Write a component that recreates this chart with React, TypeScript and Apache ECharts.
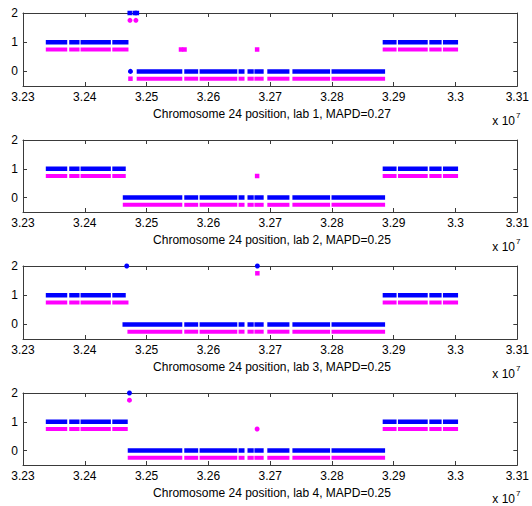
import React, { useEffect, useRef } from "react";
import * as echarts from "echarts";

// ---- data (positions in bp) ----
const X_MIN = 32300000;
const X_MAX = 33100000;
const X_STEP = 100000;
const Y_TICKS = [0, 1, 2];
const LABS = ["lab 1", "lab 2", "lab 3", "lab 4"];
const MAPD = [0.27, 0.25, 0.25, 0.25];

// contiguous probe runs (copy number 1 on the left)
const leftRuns = [
  [32336900, 32371600],
  [32374800, 32391500],
  [32393100, 32442200],
  [32444500, 32470700],
];
// deleted region (copy number 0)
const midRuns = [
  [32484000, 32557800],
  [32561000, 32583500],
  [32585800, 32646800],
  [32648900, 32658500],
  [32663300, 32673400],
  [32674500, 32689500],
  [32695400, 32731200],
  [32736000, 32797000],
  [32799300, 32886000],
];
// copy number 1 on the right
const rightRuns = [
  [32882100, 32904600],
  [32906800, 32955000],
  [32957600, 32977500],
  [32979600, 33004100],
];
const levels = [1, 0, 1];
const pinkOffset = -0.25;

// per-lab breakpoints
const leftEndBlue = [32470700, 32466300, 32466300, 32469500];
const leftEndPink = [32470700, 32466300, 32470700, 32469500];
const midStartBlue = [32484000, 32461500, 32461000, 32469500];
const midStartPink = [32484000, 32461500, 32469000, 32469500];

// isolated points
const blueRect = [
  [[32472700, 2], [32480800, 2], [32484300, 2]],
  [],
  [],
  [],
];
const blueDot = [
  [[32473900, 0]],
  [],
  [[32467900, 2], [32679300, 2]],
  [[32472300, 2]],
];
const pinkRect = [
  [[32555700, 0.75], [32561400, 0.75], [32678900, 0.75], [32473900, -0.25]],
  [[32678900, 0.75]],
  [[32679300, 1.75]],
  [],
];
const pinkDot = [
  [[32473100, 1.75], [32482700, 1.75]],
  [],
  [],
  [[32472300, 1.75], [32678900, 0.75]],
];

// ---- layout ----
const PANEL_TOP = [13, 140, 266, 393];
const PANEL_H = [73, 72, 73, 72];
const LEFT = 23;
const WIDTH = 498;
const BLUE = "#0000ff";
const PINK = "#ff00ff";
const AXIS = "#3a3a3a";
const FONT = "Liberation Sans, Arial, sans-serif";

function buildRuns(p: number, endL: number[], startM: number[], off: number) {
  const segs: number[][][] = [];
  const l = leftRuns.map((r, i) => (i === leftRuns.length - 1 ? [r[0], endL[p]] : r));
  const m = midRuns.map((r, i) => (i === 0 ? [startM[p], r[1]] : r));
  [l, m, rightRuns].forEach((runs, k) => {
    const y = levels[k] + off;
    runs.forEach((r) => segs.push([[r[0], y], [r[1], y]]));
  });
  return segs;
}

export default function App() {
  const ref = useRef<HTMLDivElement>(null);
  useEffect(() => {
    if (!ref.current) return;
    const chart = echarts.init(ref.current, null, { renderer: "svg" });
    const grid: any[] = [];
    const xAxis: any[] = [];
    const yAxis: any[] = [];
    const series: any[] = [];
    const graphic: any[] = [];
    LABS.forEach((lab, p) => {
      grid.push({ left: LEFT, width: WIDTH, top: PANEL_TOP[p], height: PANEL_H[p] });
      const common = {
        type: "value",
        gridIndex: p,
        min: X_MIN,
        max: X_MAX,
        interval: X_STEP,
        axisLine: { show: true, onZero: false, lineStyle: { color: AXIS, width: 1 } },
        axisTick: { show: true, inside: true, length: 4, lineStyle: { color: AXIS } },
        splitLine: { show: false },
      };
      xAxis.push({
        ...common,
        position: "bottom",
        axisLabel: {
          show: true,
          color: "#000",
          fontFamily: FONT,
          fontSize: 12,
          margin: 5,
          showMinLabel: true,
          showMaxLabel: true,
          formatter: (v: number) => String(+(v / 1e7).toFixed(4)),
        },
      });
      xAxis.push({ ...common, position: "top", axisLabel: { show: false } });
      const ycommon = {
        type: "value",
        gridIndex: p,
        min: -0.5,
        max: 2,
        axisLine: { show: true, onZero: false, lineStyle: { color: AXIS, width: 1 } },
        axisTick: { show: true, inside: true, length: 4, customValues: Y_TICKS, lineStyle: { color: AXIS } },
        splitLine: { show: false },
      };
      yAxis.push({
        ...ycommon,
        position: "left",
        axisLabel: { show: true, customValues: Y_TICKS, color: "#000", fontFamily: FONT, fontSize: 12, margin: 5 },
      });
      yAxis.push({ ...ycommon, position: "right", axisLabel: { show: false } });
      const xi = p * 2;
      const yi = p * 2;
      const runLine = (seg: number[][], color: string, width: number, cap: string) => ({
        type: "line",
        xAxisIndex: xi,
        yAxisIndex: yi,
        data: seg,
        showSymbol: false,
        symbol: "none",
        lineStyle: { color, width, cap, opacity: 1, type: "solid" },
        silent: true,
      });
      buildRuns(p, leftEndPink, midStartPink, pinkOffset).forEach((s) => series.push(runLine(s, PINK, 4, "butt")));
      buildRuns(p, leftEndBlue, midStartBlue, 0).forEach((s) => series.push(runLine(s, BLUE, 4.5, "butt")));
      const sc = (data: any[], color: string, symbol: string, size: number) => ({
        type: "scatter",
        xAxisIndex: xi,
        yAxisIndex: yi,
        data,
        symbol,
        symbolSize: size,
        itemStyle: { color, opacity: 1 },
        silent: true,
      });
      series.push(sc(pinkRect[p], PINK, "rect", 4.5));
      series.push(sc(pinkDot[p], PINK, "circle", 5));
      series.push(sc(blueRect[p], BLUE, "rect", 4.5));
      series.push(sc(blueDot[p], BLUE, "circle", 5));
      const bottom = PANEL_TOP[p] + PANEL_H[p];
      graphic.push({
        type: "text",
        x: LEFT + WIDTH / 2,
        y: bottom + 28,
        style: {
          text: `Chromosome 24 position, ${lab}, MAPD=${MAPD[p]}`,
          fill: "#000",
          font: `12px ${FONT}`,
          align: "center",
          verticalAlign: "middle",
        },
      });
      const xy = Math.min(bottom + 35, 499);
      graphic.push({
        type: "text",
        x: 515,
        y: xy,
        style: { text: "x 10", fill: "#000", font: `12px ${FONT}`, align: "right", verticalAlign: "middle" },
      });
      graphic.push({
        type: "text",
        x: 516,
        y: xy - 6,
        style: { text: "7", fill: "#000", font: `8px ${FONT}`, align: "left", verticalAlign: "middle" },
      });
    });
    chart.setOption({
      animation: false,
      backgroundColor: "#fff",
      grid,
      xAxis,
      yAxis,
      series,
      graphic,
    });
    return () => chart.dispose();
  }, []);
  return <div ref={ref} style={{ position: "fixed", left: 0, top: 0, width: 532, height: 506 }} />;
}
